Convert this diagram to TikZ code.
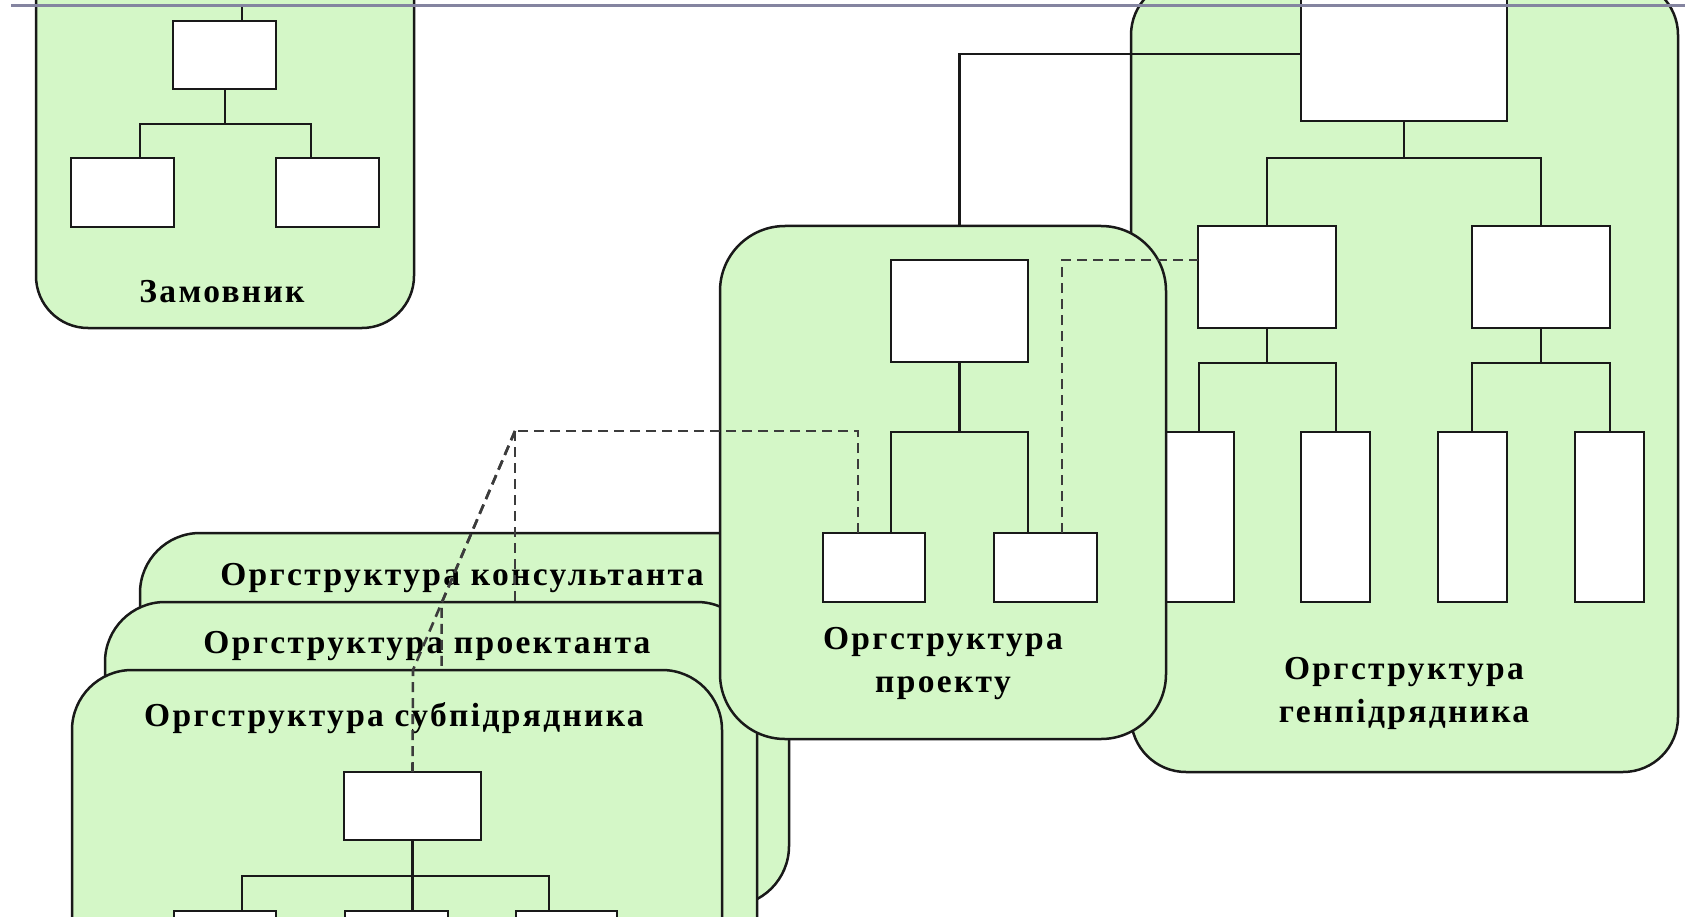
\documentclass[tikz,border=0pt]{standalone}
\usepackage{fontspec}
\setmainfont{Liberation Serif}
\newfontfamily\labelfont[LetterSpace=7]{Liberation Serif}
\definecolor{orgfill}{RGB}{212,247,199}
\definecolor{orgline}{RGB}{25,25,25}
\definecolor{rulecol}{RGB}{132,132,160}

% box given by its corners: name, x1, y1, x2, y2 (y grows downwards)
\newcommand\unitbox[6][unit]{%
  \node[#1, anchor=north west, minimum width={(#5)-(#3)}, minimum height={(#6)-(#4)}] (#2) at (#3,#4) {};}

\begin{document}
\begin{tikzpicture}[x=1pt,y=-1pt,
  unit/.style={draw=orgline, fill=white, line width=2.5pt, inner sep=0pt, outer sep=0pt, rectangle},
  group/.style={draw=orgline, fill=orgfill, line width=2.5pt, inner sep=0pt, outer sep=0pt, rectangle, rounded corners=#1},
  group/.default=60pt,
  link/.style={draw=orgline, line width=2.5pt},
  dlink/.style={draw=orgline!85, line width=2.6pt, dash pattern=on 10pt off 6pt},
  lbl/.style={font=\labelfont\fontsize{33.5}{43}\selectfont\bfseries, text=black, align=center, inner sep=0pt}
]
\useasboundingbox (0,0) rectangle (1685,917);
\clip (0,0) rectangle (1685,917);

% ---------------- general contractor ----------------
\unitbox[group=55pt]{gen}{1131}{-20}{1678}{772}
\unitbox{gt}{1301}{-20}{1507}{121}
\unitbox{gml}{1198}{226}{1336}{328}
\unitbox{gmr}{1472}{226}{1610}{328}
\unitbox{g1}{1164}{432}{1234}{602}
\unitbox{g2}{1301}{432}{1370}{602}
\unitbox{g3}{1438}{432}{1507}{602}
\unitbox{g4}{1575}{432}{1644}{602}
\draw[link] (gt.south -| 1404,0) -- (1404,158) -| (gml.north);
\draw[link] (1404,158) -| (gmr.north);
\draw[link] (gml.south) -- (1267,363) -| (g1.north -| 1199,0);
\draw[link] (1267,363) -| (g2.north -| 1336,0);
\draw[link] (gmr.south) -- (1541,363) -| (g3.north -| 1472,0);
\draw[link] (1541,363) -| (g4.north -| 1610,0);
\node[lbl] (genlabel) at (1404,693) {Оргструктура\\генпідрядника};

% ---------------- stacked cards ----------------
\coordinate (hub) at (515,431);

\unitbox[group=60pt]{cons}{140}{533}{789}{906}
\node[lbl] (conslabel) at (462,578) {Оргструктура консультанта};
\coordinate (consend) at (515,650);
\draw[dlink] (hub) -- (consend);

\unitbox[group=60pt]{proj2}{105}{602}{757}{1000}
\node[lbl] (proj2label) at (427,646) {Оргструктура проектанта};
\coordinate (proj2end) at (441.6,700);
\draw[dlink] (hub) -- (441.6,603) -- (proj2end);

\unitbox[group=60pt]{sub}{72}{670}{722}{1000}
\node[lbl] (sublabel) at (394,718) {Оргструктура субпідрядника};
\unitbox{st}{344}{772}{481}{840}
\unitbox{s1}{174}{911}{276}{990}
\unitbox{s2}{345}{911}{448}{990}
\unitbox{s3}{516}{911}{617}{990}
\draw[link] (st.south) -- (412.5,876) -| (s1.north -| 242,0);
\draw[link] (412.5,876) -- (s2.north -| 412.5,0);
\draw[link] (412.5,876) -| (s3.north -| 549,0);
\draw[dlink] (hub) -- (413,670) -- (st.north);

% ---------------- project ----------------
\unitbox[group=65pt]{proj}{720}{226}{1166}{739}
\unitbox{pt}{891}{260}{1028}{362}
\unitbox{pl}{823}{533}{925}{602}
\unitbox{pr}{994}{533}{1097}{602}
\draw[link] (pt.south) -- (959.5,432) -| (pl.north -| 891,0);
\draw[link] (959.5,432) -| (pr.north -| 1028,0);
\node[lbl] (projlabel) at (943,664) {Оргструктура\\проекту};
\draw[dlink] (pl.north -| 858,0) |- (hub);
\draw[dlink] (pr.north -| 1062,0) |- (gml.west |- 0,260);
\draw[link] (pt.north |- proj.north) |- (gt.west |- 0,54);

% ---------------- customer ----------------
\unitbox[group=52pt]{cust}{36}{-60}{414}{328}
\unitbox{zt}{173}{21}{276}{89}
\unitbox{zl}{71}{158}{174}{227}
\unitbox{zr}{276}{158}{379}{227}
\coordinate (custtop) at (242,6);
\draw[link] (zt.north -| 242,0) -- (custtop);
\draw[link] (zt.south -| 225,0) -- (225,124) -| (zl.north -| 140,0);
\draw[link] (225,124) -| (zr.north -| 311,0);
\node[lbl] (custlabel) at (222,292) {Замовник};

% ---------------- top rule ----------------
\draw[rulecol, line width=3pt] (11,6) -- (1685,6);
\end{tikzpicture}
\end{document}
